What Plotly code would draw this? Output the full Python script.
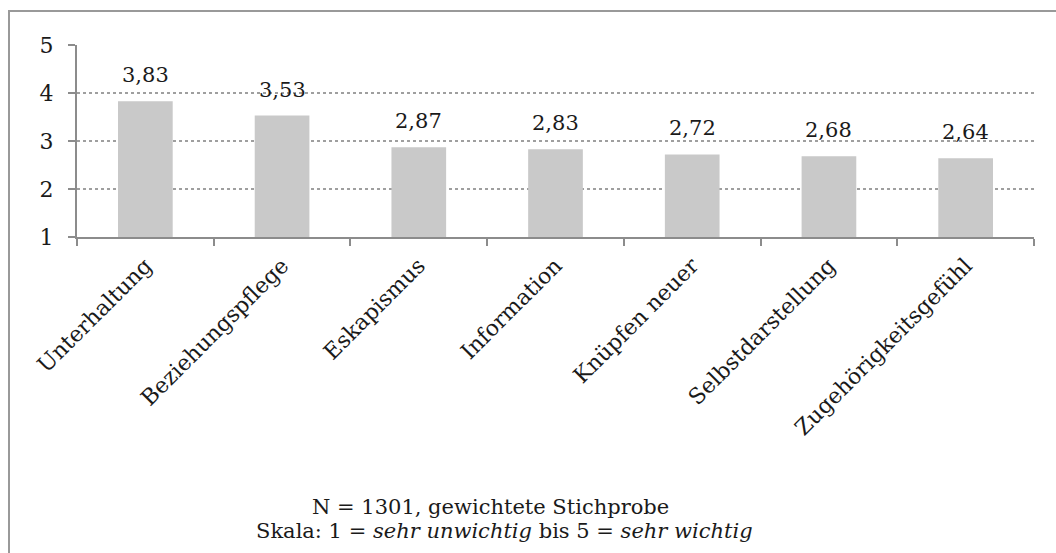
import plotly.graph_objects as go

categories = ["Unterhaltung", "Beziehungspflege", "Eskapismus", "Information",
              "Knüpfen neuer", "Selbstdarstellung", "Zugehörigkeitsgefühl"]
values = [3.83, 3.53, 2.87, 2.83, 2.72, 2.68, 2.64]
y_ticks = [1, 2, 3, 4, 5]

W, H = 1056, 553
L, R, T, B = 77, 22, 45, 316
pw, ph = W - L - R, H - T - B

def px_x(x):
    return (x - L) / pw

def px_y(y):
    return (H - B - y) / ph

font = "DejaVu Serif"
axis_grey = "#8c8c8c"

fig = go.Figure(go.Bar(
    x=categories,
    y=[v - 1 for v in values],   # bars start at the axis floor of 1
    base=1,
    width=0.4,
    marker=dict(color="#c9c9c9", line=dict(width=0)),
    cliponaxis=False,
    hoverinfo="skip",
))

# value labels above the bars (decimal comma)
annotations = [
    dict(x=c, y=v, xref="x", yref="y", text=f"{v:.2f}".replace(".", ","),
         showarrow=False, yanchor="bottom", yshift=12,
         font=dict(family=font, size=21, color="#1a1a1a"))
    for c, v in zip(categories, values)
]
annotations += [
    dict(xref="paper", yref="paper", x=px_x(490), y=px_y(507), yanchor="middle", showarrow=False,
         text="N = 1301, gewichtete Stichprobe", font=dict(family=font, size=21)),
    dict(xref="paper", yref="paper", x=px_x(504), y=px_y(531), yanchor="middle", showarrow=False,
         text="Skala: 1 = <i>sehr unwichtig</i> bis 5 = <i>sehr wichtig</i>",
         font=dict(family=font, size=21)),
]

fig.update_layout(
    width=W, height=H,
    margin=dict(l=L, r=R, t=T, b=B),
    paper_bgcolor="white", plot_bgcolor="white",
    font=dict(family=font, size=21, color="#1a1a1a"),
    showlegend=False,
    xaxis=dict(
        tickangle=-45, showgrid=False, showline=True, linecolor=axis_grey, linewidth=2,
        ticks="outside", tickson="boundaries", ticklen=7, tickcolor=axis_grey, tickwidth=2,
        tickfont=dict(family=font, size=22), ticklabelstandoff=5,
    ),
    yaxis=dict(
        range=[1, 5], tickvals=y_ticks, showline=True, linecolor=axis_grey, linewidth=2,
        ticks="outside", ticklen=7, tickcolor=axis_grey, tickwidth=2,
        showgrid=True, gridcolor="#9f9f9f", griddash="dot", gridwidth=1.5,
        zeroline=False, tickfont=dict(family=font, size=22), ticklabelstandoff=10,
    ),
    shapes=[dict(type="rect", xref="paper", yref="paper",
                 x0=px_x(9), x1=px_x(1070), y0=px_y(570), y1=px_y(11),
                 line=dict(color="#999999", width=2), layer="below")],
    annotations=annotations,
)

fig.write_html("out.html", config={"displayModeBar": False},
               post_script="document.body.style.margin='0';")
